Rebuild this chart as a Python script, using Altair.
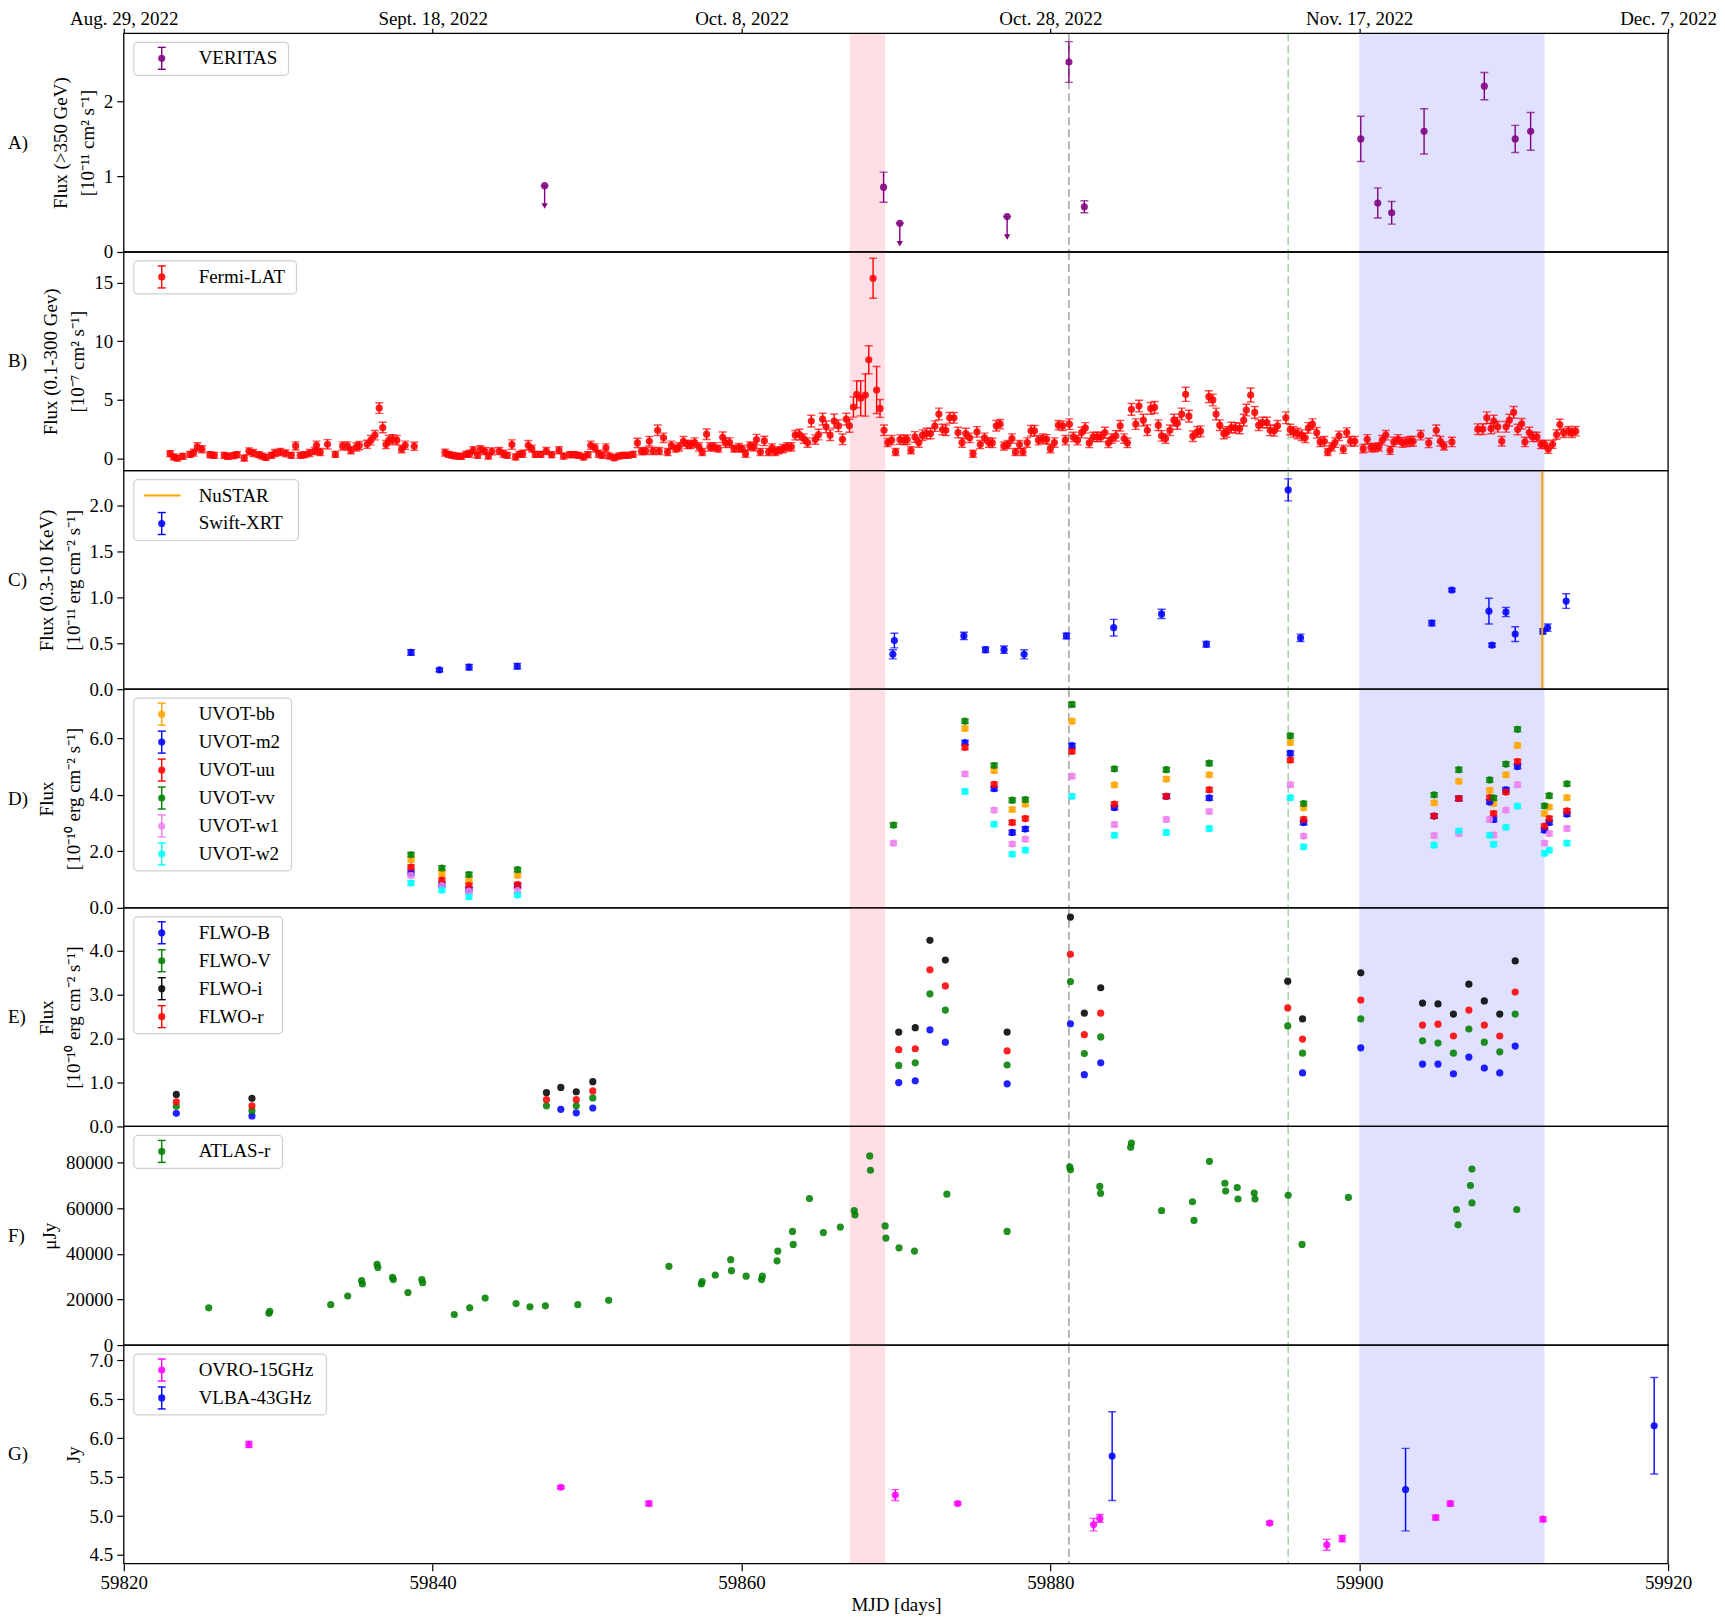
import altair as alt
import pandas as pd

FONT = "Liberation Serif"
FS = 19
W = 1547
H = 219

# ---------------- axes / annotations ----------------
X_DOMAIN = [59820, 59920]
X_TICKS = [59820, 59840, 59860, 59880, 59900, 59920]
DATE_LABELS = ["Aug. 29, 2022", "Sept. 18, 2022", "Oct. 8, 2022",
               "Oct. 28, 2022", "Nov. 17, 2022", "Dec. 7, 2022"]
FLARE_START, FLARE_END = 59867.0, 59869.3
CAMPAIGN_START, CAMPAIGN_END = 59900.0, 59912.0
VLINE_GRAY = 59881.2
VLINE_GREEN = 59895.4
NUSTAR_MJD = 59911.85

# ---------------- A) VERITAS ----------------
VER_MJD = [59869.2, 59881.2, 59882.2, 59900.1, 59901.2, 59902.1, 59904.2, 59908.1, 59910.1, 59911.1]
VER_FLUX = [0.86, 2.52, 0.60, 1.50, 0.65, 0.52, 1.60, 2.20, 1.50, 1.60]
VER_ERR = [0.20, 0.27, 0.08, 0.30, 0.20, 0.15, 0.30, 0.18, 0.18, 0.25]
VER_UL_MJD = [59847.25, 59870.25, 59877.2]
VER_UL = [0.88, 0.38, 0.47]

# ---------------- B) Fermi-LAT (mjd, flux, err) ----------------
FERMI = [
 (59823.00,0.41,.25),(59823.23,0.13,.25),(59823.47,0.04,.25),(59823.82,0.19,.25),(59824.29,0.36,.25),
 (59824.52,0.50,.3),(59824.76,0.99,.35),(59825.06,0.79,.3),(59825.58,0.33,.25),(59825.86,0.27,.25),
 (59826.51,0.27,.25),(59826.75,0.19,.25),(59827.10,0.24,.25),(59827.33,0.33,.25),(59827.80,0.04,.25),
 (59828.11,0.61,.3),(59828.39,0.47,.3),(59828.74,0.33,.25),(59828.97,0.21,.25),(59829.21,0.10,.25),
 (59829.56,0.27,.25),(59829.79,0.47,.3),(59830.14,0.56,.3),(59830.49,0.44,.3),(59830.85,0.27,.25),
 (59831.13,1.07,.35),(59831.43,0.27,.25),(59831.71,0.33,.25),(59832.02,0.47,.3),(59832.37,0.64,.3),
 (59832.48,1.13,.35),(59832.72,0.56,.3),(59833.19,1.21,.4),(59833.70,0.36,.25),(59834.17,1.07,.35),
 (59834.48,1.07,.35),(59834.71,0.70,.3),(59835.06,0.99,.35),(59835.25,1.10,.35),(59835.76,1.21,.35),
 (59836.00,1.56,.4),(59836.26,1.99,.4),(59836.54,4.30,.45),(59836.77,2.64,.45),(59836.98,1.19,.35),
 (59837.17,1.56,.4),(59837.40,1.64,.4),(59837.68,1.56,.4),(59837.99,0.79,.3),(59838.22,1.13,.35),
 (59838.81,1.04,.35),
 (59840.80,0.50,.3),(59841.03,0.36,.25),(59841.27,0.27,.25),(59841.55,0.21,.25),(59841.85,0.19,.25),
 (59842.16,0.36,.25),(59842.39,0.41,.3),(59842.63,0.70,.3),(59842.91,0.27,.25),(59843.09,0.79,.3),
 (59843.37,0.64,.3),(59843.61,0.21,.25),(59843.84,0.61,.3),(59844.31,0.64,.3),(59844.59,0.41,.3),
 (59844.83,0.27,.25),(59845.13,1.19,.4),(59845.37,0.13,.25),(59845.60,0.36,.25),(59845.83,0.41,.3),
 (59846.19,1.13,.4),(59846.42,0.84,.3),(59846.65,0.36,.25),(59847.00,0.36,.25),(59847.36,0.64,.3),
 (59847.71,0.33,.25),(59848.18,0.70,.3),(59848.48,0.21,.25),(59848.88,0.33,.25),(59849.18,0.33,.25),
 (59849.46,0.27,.25),(59849.77,0.13,.25),(59850.05,0.33,.25),(59850.24,1.13,.35),(59850.52,0.90,.35),
 (59850.75,0.41,.3),(59850.99,0.27,.25),(59851.22,0.90,.35),(59851.45,0.21,.25),(59851.76,0.07,.25),
 (59852.04,0.21,.25),(59852.34,0.27,.25),(59852.63,0.27,.25),(59852.98,0.36,.25),(59853.26,1.33,.4),
 (59853.52,0.61,.3),(59853.80,0.64,.3),(59854.03,1.47,.4),(59854.27,0.64,.3),(59854.57,2.41,.45),
 (59854.67,0.64,.3),(59854.95,1.76,.4),(59855.21,0.56,.3),(59855.46,1.13,.35),(59855.74,0.84,.3),
 (59855.96,0.99,.35),(59856.24,1.47,.4),(59856.50,1.19,.35),(59856.71,1.19,.35),(59856.97,1.36,.4),
 (59857.25,0.99,.35),(59857.46,0.56,.3),(59857.74,2.07,.45),(59857.96,0.99,.35),(59858.22,0.99,.35),
 (59858.50,0.84,.3),(59858.78,1.81,.45),(59858.97,1.33,.4),(59859.23,1.36,.4),(59859.51,0.84,.3),
 (59859.83,0.93,.35),(59860.04,0.84,.3),(59860.26,0.41,.3),(59860.54,1.07,.35),(59860.80,0.99,.35),
 (59860.97,1.61,.45),(59861.23,0.56,.3),(59861.48,1.50,.4),(59861.76,0.56,.3),(59861.98,0.90,.35),
 (59862.19,0.56,.3),(59862.41,0.70,.3),(59862.69,0.84,.35),(59862.95,0.99,.35),(59863.23,0.99,.35),
 (59863.48,1.99,.4),(59863.76,2.04,.45),(59864.02,1.70,.4),(59864.28,1.36,.4),(59864.52,3.19,.5),
 (59864.77,1.61,.4),(59864.99,2.04,.45),(59865.25,3.36,.5),(59865.48,2.70,.5),(59865.74,1.99,.45),
 (59866.00,3.19,.6),(59866.28,2.79,.5),(59866.54,1.64,.45),(59866.78,3.36,.5),(59866.99,2.79,.55),
 (59867.25,4.39,.86),(59867.46,5.47,1.15),(59867.72,5.13,1.5),(59868.02,5.41,1.8),(59868.24,8.41,1.2),
 (59868.52,15.36,1.7),(59868.75,5.84,2.0),(59868.97,4.27,.76),(59869.23,2.41,.45),(59869.46,1.36,.35),
 (59869.72,1.56,.4),(59869.98,0.56,.3),(59870.26,1.61,.4),(59870.54,1.56,.4),(59870.73,1.61,.4),
 (59870.97,0.70,.3),(59871.23,1.84,.45),(59871.48,1.36,.4),(59871.72,1.99,.45),(59871.98,2.13,.45),
 (59872.24,2.13,.45),(59872.52,2.76,.45),(59872.78,3.79,.5),(59873.01,2.47,.45),(59873.23,2.41,.45),
 (59873.48,3.47,.45),(59873.76,3.47,.45),(59874.02,2.21,.45),(59874.28,1.36,.4),(59874.52,2.13,.45),
 (59874.78,1.76,.4),(59874.99,0.41,.3),(59875.25,2.27,.45),(59875.46,1.19,.35),(59875.74,1.76,.4),
 (59876.02,1.36,.4),(59876.24,1.33,.4),(59876.50,2.79,.45),(59876.75,2.93,.4),(59876.99,1.07,.35),
 (59877.25,1.19,.35),(59877.51,1.70,.4),(59877.74,0.56,.3),(59878.00,1.19,.35),(59878.22,0.56,.3),
 (59878.50,1.36,.4),(59878.75,2.36,.45),(59878.97,2.36,.45),(59879.23,1.56,.4),(59879.51,1.70,.4),
 (59879.76,1.64,.4),(59880.00,0.84,.35),(59880.26,1.36,.4),(59880.52,2.84,.4),(59880.80,2.79,.4),
 (59880.97,1.56,.4),(59881.23,2.93,.45),(59881.49,1.84,.4),(59881.76,1.56,.4),(59882.02,2.21,.45),
 (59882.26,2.61,.45),(59882.52,1.33,.4),(59882.77,1.84,.4),(59883.03,1.84,.4),(59883.27,1.84,.4),
 (59883.53,2.21,.45),(59883.76,1.33,.4),(59883.98,1.70,.4),(59884.24,1.93,.45),(59884.52,2.79,.45),
 (59884.78,1.70,.4),(59884.99,1.33,.4),(59885.25,4.19,.5),(59885.53,2.93,.45),(59885.74,4.47,.5),
 (59886.02,3.27,.5),(59886.28,2.41,.45),(59886.50,4.27,.5),(59886.75,4.36,.5),(59886.99,2.84,.45),
 (59887.20,1.93,.45),(59887.46,1.70,.4),(59887.74,2.41,.45),(59888.00,3.27,.5),
 (59888.22,2.99,.5),(59888.50,3.79,.5),(59888.76,5.47,.6),(59888.97,3.61,.5),(59889.23,1.90,.45),
 (59889.51,2.27,.45),(59889.72,2.33,.45),(59890.26,5.27,.5),(59890.52,4.99,.5),(59890.73,3.79,.5),
 (59890.97,2.84,.45),(59891.23,2.13,.45),(59891.44,2.27,.45),(59891.72,2.64,.45),(59891.98,2.61,.45),
 (59892.26,2.56,.45),(59892.52,3.27,.5),(59892.69,4.13,.5),(59892.97,5.41,.6),(59893.23,3.93,.5),
 (59893.49,2.84,.45),(59893.74,3.07,.45),(59894.02,3.07,.45),(59894.24,2.41,.45),(59894.50,2.36,.45),
 (59894.71,2.79,.45),(59895.25,3.47,.5),(59895.53,2.47,.45),(59895.74,2.27,.45),(59896.00,2.13,.45),
 (59896.28,1.99,.45),(59896.50,1.76,.4),(59896.71,2.61,.45),(59896.97,2.93,.45),(59897.25,2.19,.45),
 (59897.47,1.41,.4),(59897.74,1.47,.4),(59897.96,0.56,.3),(59898.22,0.99,.35),(59898.43,1.36,.4),
 (59898.69,1.93,.4),(59898.97,0.79,.35),(59899.19,2.21,.4),(59899.44,1.47,.4),(59899.72,1.47,.4),
 (59900.26,0.84,.35),(59900.52,1.64,.4),(59900.76,0.93,.35),(59901.01,0.93,.35),(59901.27,0.99,.35),
 (59901.49,1.56,.4),(59901.72,1.99,.4),(59902.00,0.70,.35),(59902.24,1.41,.4),(59902.52,1.64,.4),
 (59902.80,1.36,.4),(59903.06,1.41,.4),(59903.31,1.47,.4),(59903.49,1.47,.4),(59903.98,1.99,.4),
 (59904.50,1.33,.4),(59904.99,2.41,.45),(59905.25,1.47,.4),(59905.49,1.07,.35),(59906.00,1.41,.4),
 (59907.68,2.50,.45),(59908.00,2.50,.45),(59908.26,3.47,.5),(59908.54,2.56,.45),(59908.71,3.19,.5),
 (59908.97,2.70,.45),(59909.23,1.47,.4),(59909.51,2.70,.45),(59909.72,3.27,.5),(59910.00,3.93,.5),
 (59910.26,2.47,.45),(59910.52,2.96,.45),(59910.73,1.41,.4),(59911.01,2.21,.45),(59911.23,1.84,.4),
 (59911.51,1.84,.4),(59911.77,1.19,.35),(59912.02,1.21,.35),(59912.24,0.79,.35),(59912.52,1.21,.35),
 (59912.78,2.04,.4),(59912.99,2.90,.45),(59913.23,2.19,.4),(59913.55,2.33,.4),(59913.77,2.19,.4),
 (59914.02,2.33,.4),
]

# ---------------- C) Swift-XRT ----------------
XRT_MJD = [59838.6, 59840.44, 59842.36, 59845.48, 59869.8, 59869.9, 59874.4, 59875.8, 59877.0, 59878.3,
           59881.04, 59884.1, 59887.2, 59890.1, 59895.4, 59896.2, 59904.7, 59906.0, 59908.4, 59908.6,
           59909.5, 59910.1, 59911.9, 59912.2, 59913.4]
XRT_FLUX = [0.40, 0.21, 0.24, 0.25, 0.38, 0.53, 0.58, 0.43, 0.43, 0.38,
            0.58, 0.67, 0.82, 0.49, 2.17, 0.56, 0.72, 1.08, 0.85, 0.48,
            0.84, 0.60, 0.63, 0.67, 0.96]
XRT_ERR = [0.03, 0.02, 0.03, 0.03, 0.05, 0.08, 0.04, 0.03, 0.04, 0.05,
           0.03, 0.09, 0.05, 0.03, 0.12, 0.04, 0.03, 0.02, 0.14, 0.02,
           0.05, 0.08, 0.03, 0.04, 0.08]

# ---------------- D) Swift-UVOT ----------------
UVOT_FILTERS = ["UVOT-bb", "UVOT-m2", "UVOT-uu", "UVOT-vv", "UVOT-w1", "UVOT-w2"]
UVOT_COLORS = ["#FFA500", "#0000FF", "#FF0000", "#008000", "#EE82EE", "#00FFFF"]
UVOT_MJD = [59838.6, 59840.6, 59842.35, 59845.5, 59869.84, 59874.47, 59876.36, 59877.53, 59878.38,
            59881.4, 59884.15, 59887.51, 59890.29, 59895.54, 59896.4, 59904.85, 59906.45, 59908.45,
            59908.7, 59909.5, 59910.25, 59912.0, 59912.3, 59913.45]
UVOT_BB = [1.70, 1.21, 0.98, 1.15, None, 6.35, 4.86, 3.48, 3.67, 6.61, 4.35, 4.56, 4.71, 5.85, 3.54,
           3.72, 4.48, 4.16, 3.69, 4.71, 5.75, 3.34, 3.57, 3.90]
UVOT_M2 = [1.23, 0.82, 0.65, 0.77, None, 5.85, 4.22, 2.67, 2.79, 5.74, 3.55, 3.95, 3.89, 5.47, 3.02,
           3.25, 3.87, 3.75, 3.13, 4.18, 5.00, 2.75, 3.02, 3.32]
UVOT_UU = [1.44, 0.98, 0.79, 0.82, None, 5.68, 4.37, 3.02, 3.16, 5.54, 3.67, 3.95, 4.18, 5.23, 3.13,
           3.25, 3.87, 3.90, 3.34, 4.10, 5.18, 2.89, 3.16, 3.43]
UVOT_VV = [1.88, 1.41, 1.18, 1.35, 2.93, 6.61, 5.04, 3.81, 3.83, 7.20, 4.92, 4.89, 5.12, 6.09, 3.69,
           4.00, 4.89, 4.53, 3.89, 5.09, 6.32, 3.61, 3.97, 4.39]
UVOT_W1 = [1.15, 0.79, 0.59, 0.61, 2.29, 4.74, 3.46, 2.26, 2.43, 4.66, 2.95, 3.13, 3.41, 4.36, 2.54,
           2.56, 2.63, 3.13, 2.58, 3.46, 4.36, 2.29, 2.63, 2.81]
UVOT_W2 = [0.88, 0.63, 0.39, 0.45, None, 4.12, 2.96, 1.90, 2.04, 3.95, 2.57, 2.67, 2.81, 3.90, 2.16,
           2.22, 2.72, 2.57, 2.25, 2.85, 3.60, 1.93, 2.04, 2.29]
UVOT_ERR = 0.08

# ---------------- E) FLWO ----------------
FLWO_FILTERS = ["FLWO-B", "FLWO-V", "FLWO-i", "FLWO-r"]
FLWO_COLORS = ["#0000FF", "#008000", "#000000", "#FF0000"]
FLWO_MJD = [59823.4, 59828.3, 59847.37, 59848.3, 59849.3, 59850.37, 59870.18, 59871.25, 59872.2,
            59873.2, 59877.2, 59881.3, 59882.2, 59883.26, 59895.37, 59896.33, 59900.1, 59904.1,
            59905.1, 59906.1, 59907.1, 59908.1, 59909.1, 59910.1]
FLWO_B = [0.30, 0.24, None, 0.39, 0.31, 0.42, 1.00, 1.04, 2.20, 1.92, 0.97, 2.34, 1.18, 1.45, None,
          1.22, 1.79, 1.42, 1.42, 1.20, 1.58, 1.33, 1.22, 1.83]
FLWO_V = [0.46, 0.36, 0.47, None, 0.47, 0.65, 1.39, 1.45, 3.02, 2.65, 1.40, 3.30, 1.66, 2.04, 2.29,
          1.67, 2.45, 1.95, 1.90, 1.67, 2.22, 1.92, 1.70, 2.56]
FLWO_I = [0.73, 0.64, 0.77, 0.89, 0.79, 1.02, 2.15, 2.25, 4.24, 3.79, 2.15, 4.77, 2.58, 3.16, 3.31,
          2.45, 3.50, 2.81, 2.79, 2.56, 3.24, 2.86, 2.56, 3.77]
FLWO_R = [0.56, 0.47, 0.61, None, 0.61, 0.81, 1.75, 1.77, 3.57, 3.20, 1.72, 3.92, 2.09, 2.58, 2.70,
          1.99, 2.88, 2.31, 2.33, 2.06, 2.65, 2.31, 2.06, 3.06]

# ---------------- F) ATLAS-r ----------------
ATLAS_MJD = [59825.5, 59829.4, 59829.45, 59833.4, 59834.5, 59835.4, 59835.45, 59836.4, 59836.45,
             59837.4, 59837.45, 59838.4, 59839.3, 59839.35, 59841.4, 59842.4, 59843.4, 59845.4,
             59846.3, 59847.3, 59849.4, 59851.4, 59855.3, 59857.4, 59857.45, 59858.3, 59859.3,
             59859.35, 59860.3, 59861.3, 59861.35, 59862.3, 59862.35, 59863.3, 59863.35, 59864.4,
             59865.3, 59866.4, 59867.3, 59867.35, 59868.3, 59868.35, 59869.3, 59869.35, 59870.2,
             59871.2, 59873.3, 59877.2, 59881.25, 59881.3, 59883.2, 59883.25, 59885.2, 59885.25,
             59887.2, 59889.2, 59889.3, 59890.3, 59891.3, 59891.35, 59892.1, 59892.15, 59893.2,
             59893.25, 59895.4, 59896.3, 59899.3, 59906.3, 59906.4, 59907.2, 59907.3, 59907.3,
             59910.2]
ATLAS_FLUX = [16300, 13900, 14800, 17700, 21500, 28200, 26800, 35400, 34000,
              29700, 28700, 23000, 28700, 27300, 13400, 16300, 20600, 18200,
              16800, 17200, 17700, 19600, 34500, 26800, 27800, 30700, 37400,
              32600, 30200, 28700, 30200, 36900, 41200, 49800, 44100, 64200,
              49300, 51700, 58900, 57000, 82900, 76600, 52200, 46900, 42600,
              41200, 66100, 49800, 78100, 76800, 69500, 66500, 86700, 88500,
              58900, 62800, 54600, 80500, 70900, 67500, 69000, 64000, 66600,
              64000, 65600, 44100, 64700, 59400, 52700, 69900, 77100, 62300,
              59400]

# ---------------- G) radio ----------------
OVRO_MJD = [59828.1, 59848.3, 59854.0, 59869.96, 59874.0, 59882.8, 59883.2, 59894.2, 59897.9,
            59898.9, 59904.95, 59905.9, 59911.9]
OVRO_FLUX = [5.92, 5.37, 5.16, 5.27, 5.16, 4.89, 4.97, 4.91, 4.63, 4.71, 4.98, 5.16, 4.96]
OVRO_ERR = [0.04, 0.02, 0.03, 0.07, 0.02, 0.08, 0.05, 0.02, 0.07, 0.04, 0.03, 0.03, 0.03]
VLBA_MJD = [59884.0, 59903.0, 59919.1]
VLBA_FLUX = [5.77, 5.34, 6.16]
VLBA_ERR = [0.57, 0.53, 0.62]

# ======================================================================
one = pd.DataFrame({"k": [0]})
xs = alt.Scale(domain=X_DOMAIN, nice=False, zero=False)


def long_df(mjd, colors, cols, err=None):
    rows = []
    for c, col in zip(colors, cols):
        for m, v in zip(mjd, col):
            if v is None:
                continue
            e = err if err is not None else 0
            rows.append({"mjd": m, "val": v, "lo": v - e, "hi": v + e, "c": c})
    return pd.DataFrame(rows)


def simple_df(mjd, val, err, color):
    return pd.DataFrame({"mjd": mjd, "val": val,
                         "lo": [v - e for v, e in zip(val, err)],
                         "hi": [v + e for v, e in zip(val, err)],
                         "c": [color] * len(mjd)})


def base_layers(xaxis):
    shade = pd.DataFrame({"a": [FLARE_START, CAMPAIGN_START], "b": [FLARE_END, CAMPAIGN_END],
                          "c": ["#FFC0CB", "#0000FF"], "o": [0.5, 0.12]})
    rect = alt.Chart(shade).mark_rect().encode(
        x=alt.X("a:Q", scale=xs, axis=xaxis), x2="b:Q",
        color=alt.Color("c:N", scale=None), opacity=alt.Opacity("o:Q", scale=None))
    vl = pd.DataFrame({"m": [VLINE_GRAY, VLINE_GREEN], "c": ["#a6a6a6", "#a8d4a8"]})
    rules = alt.Chart(vl).mark_rule(strokeDash=[8, 4], strokeWidth=1.6).encode(
        x=alt.X("m:Q", scale=xs, axis=xaxis), color=alt.Color("c:N", scale=None))
    return [rect, rules]


def series_layers(df, ys, yaxis, xaxis, err=True, size=52):
    color = alt.Color("c:N", scale=None)
    X = alt.X("mjd:Q", scale=xs, axis=xaxis)
    L = []
    if err:
        L.append(alt.Chart(df).mark_rule(strokeWidth=1.4, clip=True).encode(
            x=X, y=alt.Y("lo:Q", scale=ys, axis=yaxis), y2="hi:Q", color=color))
        for f in ["lo", "hi"]:
            L.append(alt.Chart(df).mark_tick(orient="horizontal", size=8, thickness=1.4, clip=True).encode(
                x=X, y=alt.Y(f + ":Q", scale=ys, axis=yaxis), color=color))
    L.append(alt.Chart(df).mark_circle(size=size, opacity=0.87, clip=True).encode(
        x=X, y=alt.Y("val:Q", scale=ys, axis=yaxis), color=color))
    return L


def legend_layers(entries, box_w):
    L = []
    n = len(entries)
    top, y0, dy = 9, 25, 28
    bottom = y0 + dy * (n - 1) + 17
    L.append(alt.Chart(one).mark_rect(fill="white", fillOpacity=0.85, stroke="#d0d0d0",
                                      strokeWidth=1.2, cornerRadius=4).encode(
        x=alt.value(10), x2=alt.value(10 + box_w), y=alt.value(top), y2=alt.value(bottom)))
    sx = 38
    for i, (lab, c, kind) in enumerate(entries):
        py = y0 + dy * i
        if kind == "line":
            L.append(alt.Chart(one).mark_rule(color=c, strokeWidth=2).encode(
                x=alt.value(20), x2=alt.value(57), y=alt.value(py)))
        else:
            L.append(alt.Chart(one).mark_rule(color=c, strokeWidth=1.4).encode(
                x=alt.value(sx), y=alt.value(py - 11), y2=alt.value(py + 11)))
            for yy in (py - 11, py + 11):
                L.append(alt.Chart(one).mark_rule(color=c, strokeWidth=1.4).encode(
                    x=alt.value(sx - 4), x2=alt.value(sx + 4), y=alt.value(yy)))
            L.append(alt.Chart(one).mark_circle(color=c, size=52, opacity=0.87).encode(
                x=alt.value(sx), y=alt.value(py)))
        L.append(alt.Chart(one).mark_text(text=lab, align="left", baseline="middle", font=FONT,
                                          fontSize=FS, color="black").encode(
            x=alt.value(75), y=alt.value(py)))
    return L


def finish(letter, layers, xaxis):
    frame = alt.Chart(one).mark_rect(fillOpacity=0, stroke="black", strokeWidth=1.3).encode(
        x=alt.value(0), x2=alt.value(W), y=alt.value(0), y2=alt.value(H))
    lt = alt.Chart(one).mark_text(text=letter, align="left", baseline="middle", font=FONT,
                                  fontSize=FS, color="black").encode(
        x=alt.value(-116), y=alt.value(H / 2))
    return alt.layer(*base_layers(xaxis), *layers, frame, lt).properties(width=W, height=H)


def yax(title, values, fmt):
    return alt.Axis(title=title, values=values, format=fmt, grid=False, domain=False,
                    labelPadding=4, titlePadding=6, labelFlush=False, labelOverlap=False)


label_expr = " : ".join([f"datum.value == {v} ? '{l}'" for v, l in zip(X_TICKS, DATE_LABELS)]) + " : ''"
top_axis = alt.Axis(orient="top", values=X_TICKS, labelExpr=label_expr, title=None, grid=False,
                    domain=False, tickSize=5, labelPadding=0, labelFlush=False, labelOverlap=False)
bottom_axis = alt.Axis(values=X_TICKS, format="d", title="MJD [days]", grid=False, domain=False,
                       tickSize=7, labelPadding=3, labelFlush=False, labelOverlap=False, titlePadding=3)
no_axis = None

panels = []

# A
ysA = alt.Scale(domain=[0, 2.9], nice=False, zero=False)
axA = yax(["Flux (>350 GeV)", "[10⁻¹¹ cm² s⁻¹]"], [0, 1, 2], "d")
dfA = simple_df(VER_MJD, VER_FLUX, VER_ERR, "#800080")
ulA = pd.DataFrame({"mjd": VER_UL_MJD, "val": VER_UL,
                    "lo": [v - 0.27 for v in VER_UL], "hi": VER_UL})
layA = series_layers(dfA, ysA, axA, top_axis)
XA = alt.X("mjd:Q", scale=xs, axis=top_axis)
layA += [
    alt.Chart(ulA).mark_rule(color="#800080", strokeWidth=1.4).encode(
        x=XA, y=alt.Y("lo:Q", scale=ysA, axis=axA), y2="hi:Q"),
    alt.Chart(ulA).mark_tick(orient="horizontal", size=8, thickness=1.4, color="#800080").encode(
        x=XA, y=alt.Y("hi:Q", scale=ysA, axis=axA)),
    alt.Chart(ulA).mark_point(shape="triangle-down", filled=True, size=40, color="#800080", opacity=1).encode(
        x=XA, y=alt.Y("lo:Q", scale=ysA, axis=axA)),
    alt.Chart(ulA).mark_circle(size=52, opacity=0.87, color="#800080").encode(
        x=XA, y=alt.Y("val:Q", scale=ysA, axis=axA)),
]
layA += legend_layers([("VERITAS", "#800080", "err")], 155)
panels.append(finish("A)", layA, top_axis))

# B
ysB = alt.Scale(domain=[-1.03, 17.6], nice=False, zero=False)
axB = yax(["Flux (0.1-300 Gev)", "[10⁻⁷ cm² s⁻¹]"], [0, 5, 10, 15], "d")
dfB = simple_df([f[0] for f in FERMI], [f[1] for f in FERMI], [f[2] for f in FERMI], "#FF0000")
layB = series_layers(dfB, ysB, axB, no_axis)
layB += legend_layers([("Fermi-LAT", "#FF0000", "err")], 163)
panels.append(finish("B)", layB, no_axis))

# C
ysC = alt.Scale(domain=[0, 2.38], nice=False, zero=False)
axC = yax(["Flux (0.3-10 KeV)", "[10⁻¹¹ erg cm⁻² s⁻¹]"], [0, 0.5, 1.0, 1.5, 2.0], ".1f")
dfC = simple_df(XRT_MJD, XRT_FLUX, XRT_ERR, "#0000FF")
layC = series_layers(dfC, ysC, axC, no_axis)
layC.append(alt.Chart(pd.DataFrame({"m": [NUSTAR_MJD]})).mark_rule(color="#FFA500", strokeWidth=2).encode(
    x=alt.X("m:Q", scale=xs, axis=no_axis)))
layC += legend_layers([("NuSTAR", "#FFA500", "line"), ("Swift-XRT", "#0000FF", "err")], 165)
panels.append(finish("C)", layC, no_axis))

# D
ysD = alt.Scale(domain=[0, 7.74], nice=False, zero=False)
axD = yax(["Flux", "[10⁻¹⁰ erg cm⁻² s⁻¹]"], [0, 2, 4, 6], ".1f")
dfD = long_df(UVOT_MJD, UVOT_COLORS, [UVOT_BB, UVOT_M2, UVOT_UU, UVOT_VV, UVOT_W1, UVOT_W2], UVOT_ERR)
layD = series_layers(dfD, ysD, axD, no_axis)
layD += legend_layers([(f, c, "err") for f, c in zip(UVOT_FILTERS, UVOT_COLORS)], 158)
panels.append(finish("D)", layD, no_axis))

# E
ysE = alt.Scale(domain=[0, 4.98], nice=False, zero=False)
axE = yax(["Flux", "[10⁻¹⁰ erg cm⁻² s⁻¹]"], [0, 1, 2, 3, 4], ".1f")
dfE = long_df(FLWO_MJD, FLWO_COLORS, [FLWO_B, FLWO_V, FLWO_I, FLWO_R])
layE = series_layers(dfE, ysE, axE, no_axis, err=False)
layE += legend_layers([(f, c, "err") for f, c in zip(FLWO_FILTERS, FLWO_COLORS)], 149)
panels.append(finish("E)", layE, no_axis))

# F
ysF = alt.Scale(domain=[0, 95800], nice=False, zero=False)
axF = yax("μJy", [0, 20000, 40000, 60000, 80000], "d")
dfF = simple_df(ATLAS_MJD, ATLAS_FLUX, [0] * len(ATLAS_MJD), "#008000")
layF = series_layers(dfF, ysF, axF, no_axis, err=False)
layF += legend_layers([("ATLAS-r", "#008000", "err")], 149)
panels.append(finish("F)", layF, no_axis))

# G
ysG = alt.Scale(domain=[4.388, 7.197], nice=False, zero=False)
axG = yax("Jy", [4.5, 5.0, 5.5, 6.0, 6.5, 7.0], ".1f")
dfG = pd.concat([simple_df(OVRO_MJD, OVRO_FLUX, OVRO_ERR, "#FF00FF"),
                 simple_df(VLBA_MJD, VLBA_FLUX, VLBA_ERR, "#0000FF")])
layG = series_layers(dfG, ysG, axG, bottom_axis)
layG += legend_layers([("OVRO-15GHz", "#FF00FF", "err"), ("VLBA-43GHz", "#0000FF", "err")], 193)
panels.append(finish("G)", layG, bottom_axis))

chart = alt.vconcat(*panels, spacing=0, bounds="flush").properties(padding=0).configure(
    font=FONT).configure_view(stroke=None).configure_axis(
    labelFont=FONT, titleFont=FONT, labelFontSize=FS, titleFontSize=FS, titleFontWeight="normal",
    labelColor="black", titleColor="black", tickColor="black", tickWidth=1.2, tickSize=7,
    titleLineHeight=27).configure_concat(spacing=0)

chart.save("out.html", embed_options={"renderer": "svg", "actions": False})
